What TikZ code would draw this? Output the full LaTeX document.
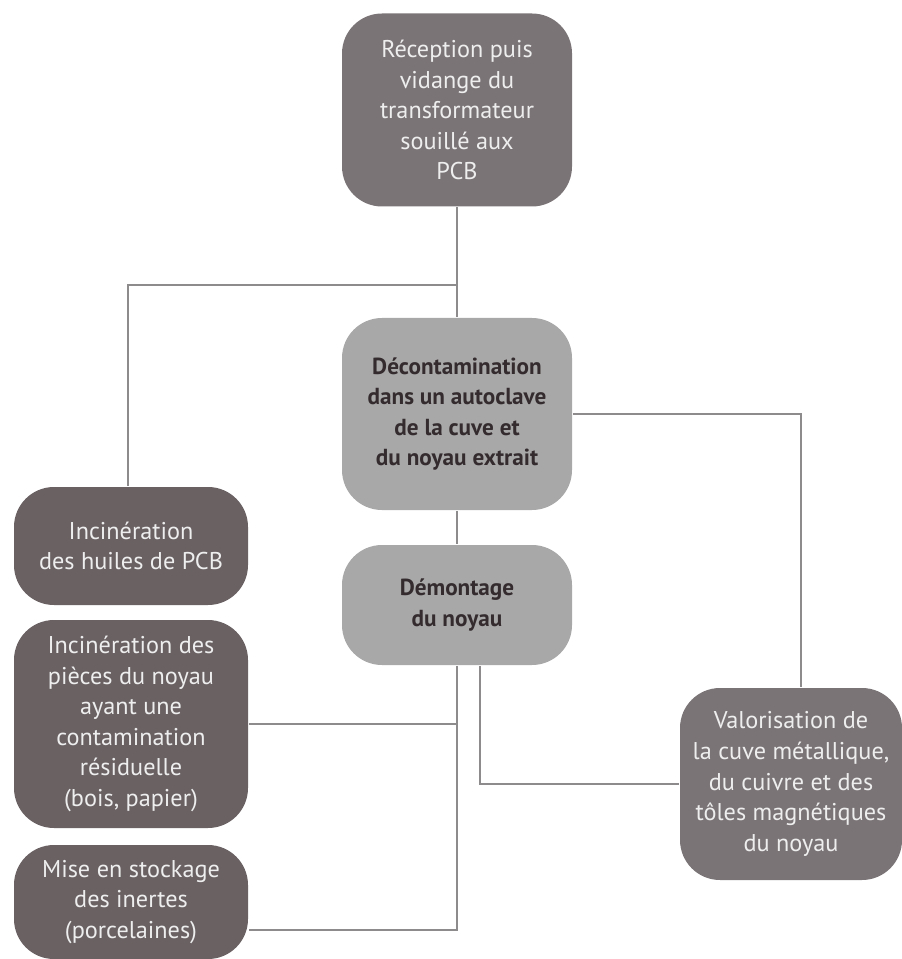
\documentclass[tikz,border=0pt]{standalone}
\usepackage{fontspec}
\setmainfont{PT Sans}
\usepackage{xcolor}
\usepackage{tikz}
\definecolor{boxdark}{HTML}{6A6163}
\definecolor{boxmid}{HTML}{7B7476}
\definecolor{boxlight}{HTML}{A9A8A8}
\definecolor{linkgray}{HTML}{8E8B8C}
\definecolor{txtlight}{HTML}{EEEEEE}
\definecolor{txtdark}{HTML}{332B2D}

\begin{document}
\begin{tikzpicture}[line width=1.1pt,
    stage/.style={rounded corners=0.8cm, align=center, inner sep=2pt,
      font=\fontsize{13.8}{17.4}\selectfont},
    darkstage/.style={stage, fill=boxdark, text=txtlight},
    midstage/.style={stage, fill=boxmid, text=txtlight},
    lightstage/.style={stage, fill=boxlight, text=txtdark,
      font=\fontsize{13.2}{17.4}\selectfont\bfseries},
    link/.style={draw=linkgray}]
        \useasboundingbox (0,0) rectangle (18.02,-19.18);
        % centre column
        \node[midstage, minimum width=4.6cm, minimum height=3.86cm] (recep) at (9.14,-2.2)
          {Réception puis\\vidange du\\transformateur\\souillé aux\\PCB};
        \node[lightstage, minimum width=4.6cm, minimum height=3.84cm] (decon) at (9.14,-8.28)
          {Décontamination\\dans un autoclave\\de la cuve et\\du noyau extrait};
        \node[lightstage, minimum width=4.6cm, minimum height=2.4cm] (demont) at (9.14,-12.1)
          {Démontage\\du noyau};
        % left column
        \node[darkstage, minimum width=4.68cm, minimum height=2.36cm] (huiles) at (2.62,-10.92)
          {Incinération\\des huiles de PCB};
        \node[darkstage, minimum width=4.68cm, minimum height=4.16cm] (pieces) at (2.62,-14.48)
          {Incinération des\\pièces du noyau\\ayant une\\contamination\\résiduelle\\(bois, papier)};
        \node[darkstage, minimum width=4.68cm, minimum height=2.28cm] (stock) at (2.62,-18.04)
          {Mise en stockage\\des inertes\\(porcelaines)};
        % right
        \node[midstage, minimum width=4.44cm, minimum height=3.84cm] (valo) at (15.82,-15.68)
          {Valorisation de\\la cuve métallique,\\du cuivre et des\\tôles magnétiques\\du noyau};
        \coordinate (split) at (9.14,-5.7);
        \coordinate (cut) at ([yshift=-0.56cm]stock.east);
        \coordinate (branch) at ([xshift=0.46cm]demont.south);
        \draw[link] (recep.south) -- (decon.north);
        \draw[link] (split) -| ([xshift=-0.06cm]huiles.north);
        \draw[link] (decon.east) -| ([xshift=0.2cm]valo.north);
        \draw[link] (decon.south) -- (demont.north);
        \draw[link] (demont.south) |- (cut);
        \draw[link] (pieces.east) -- (pieces.east -| demont.south);
        \draw[link] (branch) |- (valo.west);
\end{tikzpicture}
\end{document}
